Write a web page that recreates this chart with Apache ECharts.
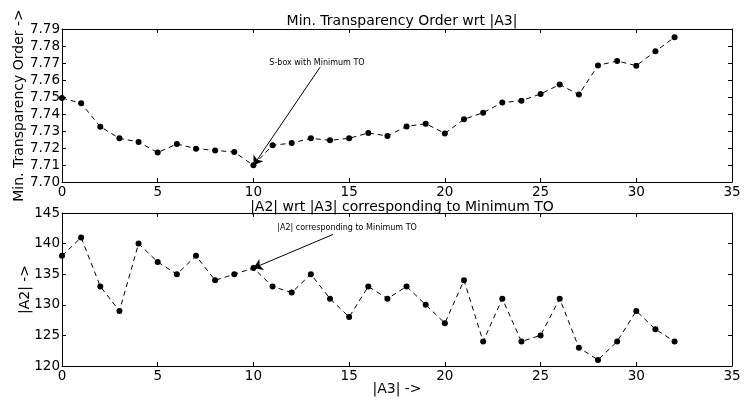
<!DOCTYPE html>
<html>
<head>
<meta charset="utf-8">
<script src="https://cdn.jsdelivr.net/npm/echarts@6/dist/echarts.min.js"></script>
<style>
html,body{margin:0;padding:0;background:#fff;}
#c{width:744px;height:401px;}
</style>
</head>
<body>
<div id="c"></div>
<script>
// |A3| values (x)
var a3 = [0,1,2,3,4,5,6,7,8,9,10,11,12,13,14,15,16,17,18,19,20,21,22,23,24,25,26,27,28,29,30,31,32];
// Minimum transparency order for each |A3|
var minTO = [7.7494,7.7463,7.7325,7.7257,7.7235,7.7173,7.7224,7.7196,7.7186,7.7176,7.7098,7.7216,7.7229,7.7257,7.7245,7.7257,7.7288,7.7271,7.7327,7.7343,7.7286,7.7369,7.7408,7.7467,7.7478,7.7518,7.7573,7.7514,7.7686,7.7712,7.7684,7.7769,7.7851];
// |A2| corresponding to minimum TO
var a2 = [138,141,133,129,140,137,135,138,134,135,136,133,132,135,131,128,133,131,133,130,127,134,124,131,124,125,131,123,121,124,129,126,124];
// annotation anchors (data space)
var minIndex = 10;
var toNoteText = [13.32, 7.7700];
var toNoteFrom = [13.48, 7.7675];
var a2NoteText = [14.89, 142.6];
var a2NoteFrom = [14.16, 141.5];

var FONT = 'DejaVu Sans';
var topData = a3.map(function(x,i){return [x, minTO[i]];});
var botData = a3.map(function(x,i){return [x, a2[i]];});

function xAx(grid, pos, labels, extra){
  var o = {type:'value', gridIndex:grid, position:pos, min:0, max:35, interval:5,
    axisLine:{show:true, onZero:false, lineStyle:{color:'#000', width:1}},
    axisTick:{show:true, inside:true, length:4, lineStyle:{color:'#000'}},
    axisLabel:{show:labels, color:'#000', fontFamily:FONT, fontSize:13.5, margin:3},
    splitLine:{show:false}};
  for (var k in extra) o[k]=extra[k];
  return o;
}
function yAx(grid, pos, labels, min, max, iv, fmt, extra){
  var o = {type:'value', gridIndex:grid, position:pos, min:min, max:max, interval:iv,
    axisLine:{show:true, onZero:false, lineStyle:{color:'#000', width:1}},
    axisTick:{show:true, inside:true, length:4, lineStyle:{color:'#000'}},
    axisLabel:{show:labels, color:'#000', fontFamily:FONT, fontSize:13.5, margin:2, formatter:fmt},
    splitLine:{show:false}};
  for (var k in extra) o[k]=extra[k];
  return o;
}
var nameStyle = {color:'#000', fontFamily:FONT, fontSize:14};

var chart = echarts.init(document.getElementById('c'), null, {renderer:'canvas'});
chart.setOption({
  animation:false,
  backgroundColor:'#fff',
  title:[
    {text:'Min. Transparency Order wrt |A3|', left:397, textAlign:'center', top:9,
     textStyle:{color:'#000', fontFamily:FONT, fontSize:14, fontWeight:'normal'}},
    {text:'|A2| wrt |A3| corresponding to Minimum TO', left:397, textAlign:'center', top:195,
     textStyle:{color:'#000', fontFamily:FONT, fontSize:14, fontWeight:'normal'}}
  ],
  grid:[
    {left:62, top:29, width:670, height:153, outerBoundsMode:'none', containLabel:false},
    {left:62, top:213, width:670, height:153, outerBoundsMode:'none', containLabel:false}
  ],
  xAxis:[
    xAx(0,'bottom',true,{}),
    xAx(0,'top',false,{}),
    xAx(1,'bottom',true,{name:'|A3| ->', nameLocation:'middle', nameGap:16, nameMoveOverlap:false, nameTextStyle:nameStyle}),
    xAx(1,'top',false,{})
  ],
  yAxis:[
    yAx(0,'left',true,7.70,7.79,0.01,function(v){return v.toFixed(2);},
      {name:'Min. Transparency Order ->', nameLocation:'middle', nameGap:36, nameMoveOverlap:false, nameTextStyle:nameStyle}),
    yAx(0,'right',false,7.70,7.79,0.01,null,{}),
    yAx(1,'left',true,120,145,5,function(v){return String(v);},
      {name:'|A2| ->', nameLocation:'middle', nameGap:30, nameMoveOverlap:false, nameTextStyle:nameStyle}),
    yAx(1,'right',false,120,145,5,null,{})
  ],
  series:[
    {type:'line', xAxisIndex:0, yAxisIndex:0, data:topData, z:2,
     lineStyle:{color:'#000', width:1, type:[5,4]},
     symbol:'circle', symbolSize:6, itemStyle:{color:'#000'},
     markLine:{silent:true, z:5, symbol:['none','arrow'], symbolSize:9,
       lineStyle:{color:'#000', width:1, type:'solid'}, label:{show:false},
       data:[[{coord:toNoteFrom},{coord:[a3[minIndex], minTO[minIndex]]}]]},
     markPoint:{silent:true, symbol:'circle', symbolSize:0,
       label:{show:true, position:'inside', formatter:'S-box with Minimum TO', color:'#000', fontFamily:FONT, fontSize:8},
       data:[{coord:toNoteText}]}
    },
    {type:'line', xAxisIndex:2, yAxisIndex:2, data:botData, z:2,
     lineStyle:{color:'#000', width:1, type:[5,4]},
     symbol:'circle', symbolSize:6, itemStyle:{color:'#000'},
     markLine:{silent:true, z:5, symbol:['none','arrow'], symbolSize:9,
       lineStyle:{color:'#000', width:1, type:'solid'}, label:{show:false},
       data:[[{coord:a2NoteFrom},{coord:[a3[minIndex], a2[minIndex]]}]]},
     markPoint:{silent:true, symbol:'circle', symbolSize:0,
       label:{show:true, position:'inside', formatter:'|A2| corresponding to Minimum TO', color:'#000', fontFamily:FONT, fontSize:8},
       data:[{coord:a2NoteText}]}
    }
  ]
});
</script>
</body>
</html>
